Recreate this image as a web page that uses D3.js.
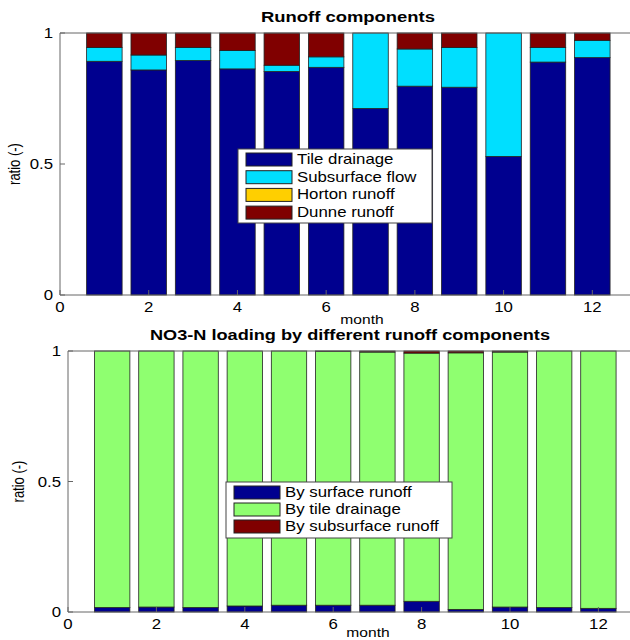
<!DOCTYPE html>
<html>
<head>
<meta charset="utf-8">
<script src="https://cdn.jsdelivr.net/npm/d3@7"></script>
<style>
  body { margin: 0; background: #fff; }
  svg { display: block; font-family: "Liberation Sans", Arial, sans-serif; }
</style>
</head>
<body>
<svg id="chart" width="630" height="640"></svg>
<script>

var months = [1, 2, 3, 4, 5, 6, 7, 8, 9, 10, 11, 12];
var xTicks = [0, 2, 4, 6, 8, 10, 12];
var yTicks = [0, 0.5, 1];

// Runoff components (ratios, stacked bottom-up)
var tileDrainage   = [0.892, 0.859, 0.895, 0.863, 0.853, 0.869, 0.712, 0.797, 0.793, 0.529, 0.889, 0.906];
var subsurfaceFlow = [0.053, 0.057, 0.050, 0.070, 0.024, 0.040, 0.288, 0.142, 0.152, 0.471, 0.056, 0.066];
var hortonRunoff   = [0, 0, 0, 0, 0, 0, 0, 0, 0, 0, 0, 0];
var dunneRunoff    = [0.055, 0.084, 0.055, 0.067, 0.123, 0.091, 0, 0.061, 0.055, 0, 0.055, 0.028];

// NO3-N loading shares (stacked bottom-up)
var bySurface    = [0.017, 0.019, 0.017, 0.023, 0.026, 0.026, 0.026, 0.041, 0.010, 0.019, 0.017, 0.014];
var bySubsurface = [0, 0, 0, 0, 0, 0.001, 0.004, 0.008, 0.007, 0.004, 0, 0];
var byTile       = bySurface.map(function(s, i) { return 1 - s - bySubsurface[i]; });

var svg = d3.select('#chart');

// The original figure is stretched sideways a bit, so is its text.
var SX = 1.2;


/**
 * Add a sideways-stretched text at (x, y).
 */
function label(g, x, y, str, size, anchor) {
  return g.append('text')
    .attr('transform', 'translate(' + x + ',' + y + ') scale(' + SX + ',1)')
    .attr('text-anchor', anchor || 'start')
    .attr('font-size', size)
    .text(str);
}


/**
 * Draw one stacked bar panel.
 */
function panel(opts) {

  var x = d3.scaleLinear().domain([0, 13]).range([opts.left, opts.left + 13 * opts.unit]);
  var y = d3.scaleLinear().domain([0, 1]).range([opts.bottom, opts.top]);

  var g = svg.append('g');

  // Stack the series.
  var rows = months.map(function(m, i) {
    var r = { month: m };
    opts.series.forEach(function(s) { r[s.name] = s.values[i]; });
    return r;
  });
  var stack = d3.stack().keys(opts.series.map(function(s) { return s.name; }));
  var layers = stack(rows);

  layers.forEach(function(layer, k) {
    g.selectAll(null)
      .data(layer)
      .enter().append('rect')
      .attr('x', function(d) { return x(d.data.month - 0.4); })
      .attr('width', x(0.8) - x(0))
      .attr('y', function(d) { return y(d[1]); })
      .attr('height', function(d) { return Math.max(0, y(d[0]) - y(d[1])); })
      .attr('fill', opts.series[k].color)
      .attr('stroke', '#222')
      .attr('stroke-width', function(d) { return d[1] - d[0] > 0 ? 0.8 : 0; });
  });

  // Axes box.
  var right = x(13);
  g.append('path')
    .attr('d', 'M' + opts.left + ',' + opts.bottom + 'V' + opts.top + 'H' + right +
      'V' + opts.bottom + 'Z')
    .attr('fill', 'none').attr('stroke', '#666').attr('stroke-width', 1);

  // Ticks (inward).
  xTicks.forEach(function(t) {
    g.append('line').attr('x1', x(t)).attr('x2', x(t))
      .attr('y1', opts.bottom).attr('y2', opts.bottom - 5).attr('stroke', '#666');
    label(g, x(t), opts.bottom + 17, t, 14, 'middle');
  });
  yTicks.forEach(function(t) {
    g.append('line').attr('x1', opts.left).attr('x2', opts.left + 5)
      .attr('y1', y(t)).attr('y2', y(t)).attr('stroke', '#666');
    label(g, opts.left - 7, y(t) + 5, t, 14, 'end');
  });

  // Labels.
  g.append('text').attr('x', opts.titleX).attr('y', opts.top - 11)
    .attr('text-anchor', 'middle').attr('font-size', 14).attr('font-weight', 'bold')
    .attr('textLength', opts.titleW).attr('lengthAdjust', 'spacingAndGlyphs')
    .text(opts.title);
  label(g, opts.xlabelX, opts.bottom + opts.xlabelDy, 'month', 13, 'middle');
  g.append('text')
    .attr('transform', 'translate(' + (opts.left - opts.ylabelDx) + ',' + y(0.5) +
      ') scale(' + SX + ',1) rotate(-90)')
    .attr('text-anchor', 'middle').attr('font-size', 13).text('ratio (-)');

  // Legend.
  var L = opts.legend;
  var lg = g.append('g').attr('transform', 'translate(' + L.x + ',' + L.y + ')');
  lg.append('rect').attr('width', L.w).attr('height', L.h)
    .attr('fill', '#fff').attr('stroke', '#444');
  L.items.forEach(function(s, i) {
    lg.append('rect').attr('x', 8).attr('y', 4 + i * L.step)
      .attr('width', 46).attr('height', 13)
      .attr('fill', s.color).attr('stroke', '#222');
    label(lg, 59, 15 + i * L.step, s.name, 14);
  });
}


var top1 = [
  { name: 'Tile drainage', values: tileDrainage, color: '#00008f' },
  { name: 'Subsurface flow', values: subsurfaceFlow, color: '#00dfff' },
  { name: 'Horton runoff', values: hortonRunoff, color: '#ffcf00' },
  { name: 'Dunne runoff', values: dunneRunoff, color: '#800000' }
];

var bottom1 = [
  { name: 'By surface runoff', values: bySurface, color: '#00008f' },
  { name: 'By tile drainage', values: byTile, color: '#8fff70' },
  { name: 'By subsurface runoff', values: bySubsurface, color: '#800000' }
];

panel({
  left: 60, unit: 44.36, top: 33, bottom: 295,
  series: top1, title: 'Runoff components', titleX: 348, titleW: 174,
  xlabelX: 362, xlabelDy: 29, ylabelDx: 40,
  legend: { x: 238, y: 149, w: 194, h: 74, step: 17.7, items: top1 }
});

panel({
  left: 68, unit: 44.2, top: 351, bottom: 612,
  series: bottom1, title: 'NO3-N loading by different runoff components',
  titleX: 350, titleW: 400, xlabelX: 368, xlabelDy: 25, ylabelDx: 44,
  legend: { x: 226, y: 482, w: 226, h: 56, step: 17, items: bottom1 }
});

</script>
</body>
</html>
